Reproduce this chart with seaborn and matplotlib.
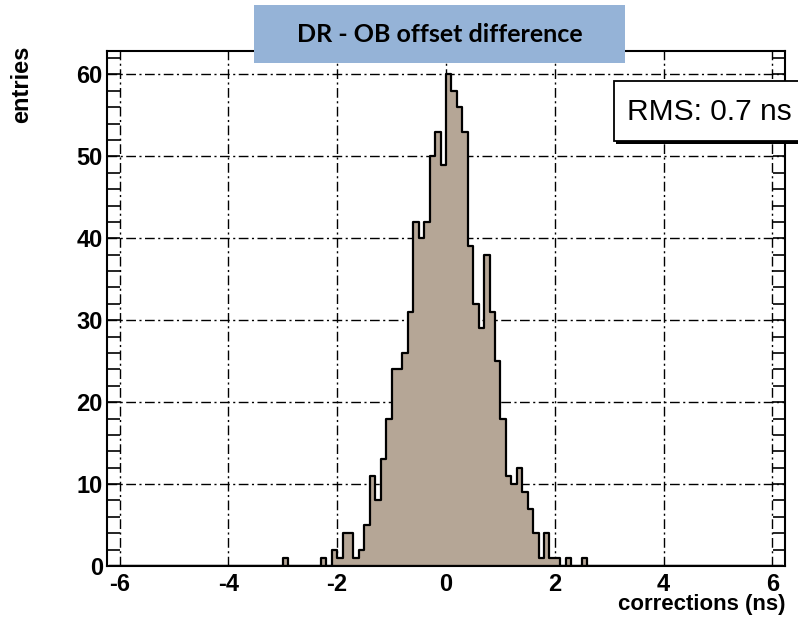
import numpy as np
import pandas as pd
import matplotlib
matplotlib.use("Agg")
import matplotlib.pyplot as plt
import seaborn as sns
from matplotlib.patches import Rectangle
from matplotlib.ticker import MultipleLocator

# ---- data (left bin edges, bin width 0.1 ns) ----
bin_left = [-3.0, -2.3, -2.1, -2.0, -1.9, -1.8, -1.7, -1.6, -1.5, -1.4, -1.3, -1.2,
            -1.1, -1.0, -0.9, -0.8, -0.7, -0.6, -0.5, -0.4, -0.3, -0.2, -0.1,
            0.0, 0.1, 0.2, 0.3, 0.4, 0.5, 0.6, 0.7, 0.8, 0.9, 1.0, 1.1, 1.2,
            1.3, 1.4, 1.5, 1.6, 1.7, 1.8, 1.9, 2.0, 2.2, 2.5]
counts = [1, 1, 2, 1, 4, 4, 1, 2, 5, 11, 8, 13,
          18, 24, 24, 26, 31, 42, 40, 42, 50, 53, 49,
          60, 58, 56, 53, 39, 32, 29, 38, 31, 25, 18, 11, 10,
          12, 9, 7, 4, 1, 4, 1, 1, 1, 1]
bin_width = 0.1
hist_range = (-6.2, 6.2)
x_limits = (-6.23, 6.23)
y_limits = (0, 62.9)
title_text = "DR - OB offset difference"
rms_text = "RMS: 0.7 ns"
x_label = "corrections (ns)"
y_label = "entries"

sns.set_style("white")
plt.rcParams['font.family'] = ['Liberation Sans', 'DejaVu Sans']
plt.rcParams['axes.unicode_minus'] = False
for k in ("text.color", "axes.labelcolor", "xtick.color", "ytick.color"):
    plt.rcParams[k] = "black"

W, H = 798, 617
fig = plt.figure(figsize=(W / 100, H / 100), dpi=100)
ax_l, ax_r, ax_t, ax_b = 107, 785, 50.7, 566
ax = fig.add_axes([ax_l / W, 1 - ax_b / H, (ax_r - ax_l) / W, (ax_b - ax_t) / H])

df = pd.DataFrame({"corr": np.array(bin_left) + bin_width / 2, "n": counts})
sns.histplot(data=df, x="corr", weights="n", binwidth=bin_width, binrange=hist_range,
             element="step", fill=True, color="#B5A696", edgecolor="black",
             linewidth=1.6, alpha=1.0, ax=ax, zorder=2)

ax.set_xlim(*x_limits)
ax.set_ylim(*y_limits)
ax.xaxis.set_major_locator(MultipleLocator(2))
ax.xaxis.set_minor_locator(MultipleLocator(0.5))
ax.yaxis.set_major_locator(MultipleLocator(10))
ax.yaxis.set_minor_locator(MultipleLocator(2))

# dash-dot grid behind the histogram
gls = (0, (7, 2.5, 1.5, 2.5))
for v in ax.get_xticks():
    if x_limits[0] < v < x_limits[1]:
        ax.axvline(v, color="black", linestyle=gls, linewidth=1.0, zorder=0.5)
for v in ax.get_yticks():
    if y_limits[0] < v < y_limits[1]:
        ax.axhline(v, color="black", linestyle=gls, linewidth=1.0, zorder=0.5)

ax.tick_params(axis="both", which="both", direction="in", width=1.2, colors="black")
ax.tick_params(axis="x", which="major", length=12, pad=5, labelsize=17, top=False)
ax.tick_params(axis="x", which="minor", length=7, top=False)
ax.tick_params(axis="y", which="both", length=9, left=True, right=True)
ax.tick_params(axis="y", which="major", pad=3, labelsize=17)
for lab in ax.get_xticklabels() + ax.get_yticklabels():
    lab.set_fontweight("bold")

for s in ax.spines.values():
    s.set_linewidth(1.5)
    s.set_color("black")
    s.set_zorder(5)

ax.set_xlabel(x_label, loc="right", fontsize=16, fontweight="bold")
ax.xaxis.set_label_coords(1.0, (ax_b - 594) / (ax_b - ax_t))
ax.set_ylabel(y_label, loc="top", fontsize=17, fontweight="bold")
ax.yaxis.set_label_coords((33 - ax_l) / (ax_r - ax_l), (ax_b - 46) / (ax_b - ax_t))

# title box
fig.patches.append(Rectangle((254 / W, 1 - 63 / H), (625 - 254) / W, (63 - 5) / H,
                             transform=fig.transFigure, facecolor="#95B3D7",
                             edgecolor="none", zorder=10))
fig.text(440 / W, 1 - 34 / H, title_text, ha="center", va="center", color="black",
         fontsize=18, fontweight="bold", family=["Lato", "DejaVu Sans"], zorder=11)

# RMS box with shadow
fig.patches.append(Rectangle((616 / W, 1 - 144 / H), 200 / W, 60 / H,
                             transform=fig.transFigure, facecolor="black",
                             edgecolor="none", zorder=10))
fig.patches.append(Rectangle((614 / W, 1 - 141 / H), 200 / W, 60 / H,
                             transform=fig.transFigure, facecolor="white",
                             edgecolor="black", linewidth=1.3, zorder=10.5))
fig.text(627 / W, 1 - 112 / H, rms_text, ha="left", va="center", fontsize=21.5,
         color="black", zorder=11)

fig.savefig("out.png", dpi=100)
